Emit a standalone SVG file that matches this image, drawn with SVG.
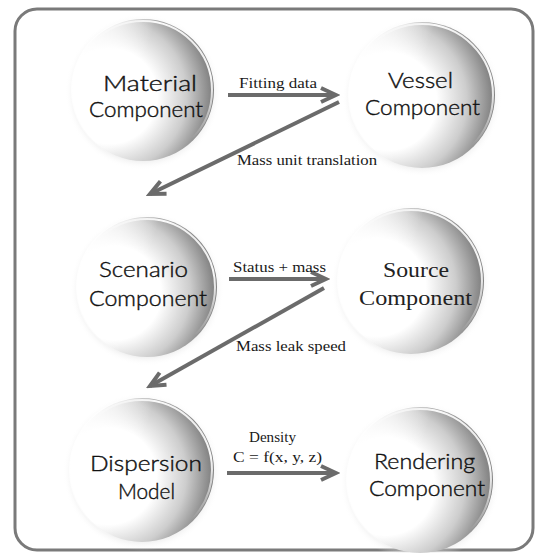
<svg xmlns="http://www.w3.org/2000/svg" width="538" height="553" viewBox="0 0 538 553">
<defs>
<radialGradient id="sph" cx="0.3" cy="0.52" r="0.8" fx="0.24" fy="0.56">
<stop offset="0" stop-color="#ffffff"/>
<stop offset="0.42" stop-color="#ffffff"/>
<stop offset="0.66" stop-color="#cdcdcd"/>
<stop offset="0.85" stop-color="#878787"/>
<stop offset="0.95" stop-color="#767676"/>
<stop offset="1" stop-color="#bdbdbd"/>
</radialGradient>
<linearGradient id="leftfade" x1="0" y1="0.35" x2="1" y2="0.65">
<stop offset="0" stop-color="#ffffff" stop-opacity="1"/>
<stop offset="0.22" stop-color="#ffffff" stop-opacity="0.6"/>
<stop offset="0.45" stop-color="#ffffff" stop-opacity="0"/>
</linearGradient>
<linearGradient id="rim" x1="0" y1="1" x2="1" y2="0">
<stop offset="0.5" stop-color="#ffffff" stop-opacity="0"/>
<stop offset="0.8" stop-color="#ffffff" stop-opacity="0.95"/>
<stop offset="1" stop-color="#ffffff" stop-opacity="0.6"/>
</linearGradient>
<radialGradient id="halo" cx="0.5" cy="0.5" r="0.5">
<stop offset="0.86" stop-color="#d8d8d8" stop-opacity="0.5"/>
<stop offset="1" stop-color="#ffffff" stop-opacity="0"/>
</radialGradient>
<marker id="chev" markerUnits="userSpaceOnUse" markerWidth="24" markerHeight="24" viewBox="-20 -12 24 24" refX="0" refY="0" orient="auto">
<path d="M-15,-7 L0,0 L-15,7" fill="none" stroke="#6b6b6b" stroke-width="4" stroke-linejoin="miter"/>
</marker>
</defs>
<style>
.ball{fill:url(#sph)}
.fade{fill:url(#leftfade)}
.rim{fill:none;stroke:url(#rim);stroke-width:2}
.halo{fill:url(#halo)}
.nt{font-family:Lato,"Open Sans","DejaVu Sans",sans-serif;font-size:21px;font-weight:300;fill:#111111;stroke:#111111;stroke-width:0.4}
.ns{font-family:"Liberation Serif","Times New Roman",serif;font-size:20px;fill:#222222}
.el{font-family:"Liberation Serif","Times New Roman",serif;font-size:14px;fill:#1a1a1a}
.conn{stroke:#6b6b6b;stroke-width:4;fill:none;marker-end:url(#chev)}
</style>
<rect x="15" y="9" width="518" height="541" rx="22" ry="22" fill="#ffffff" stroke="#7a7a7a" stroke-width="3"/>

<g id="material">
<circle class="halo" cx="143" cy="92" r="78"/>
<circle class="ball" cx="143" cy="90" r="71"/>
<circle class="fade" cx="143" cy="90" r="72"/>
<circle class="rim" cx="143" cy="90" r="69"/>
<text class="nt" x="103" y="91" textLength="94" lengthAdjust="spacingAndGlyphs">Material</text>
<text class="nt" x="89" y="117" textLength="114" lengthAdjust="spacingAndGlyphs">Component</text>
</g>

<g id="vessel">
<circle class="halo" cx="422" cy="97" r="80"/>
<circle class="ball" cx="422" cy="95" r="73"/>
<circle class="fade" cx="422" cy="95" r="74"/>
<circle class="rim" cx="422" cy="95" r="71"/>
<text class="nt" x="388" y="88" textLength="65" lengthAdjust="spacingAndGlyphs">Vessel</text>
<text class="nt" x="365" y="115" textLength="115" lengthAdjust="spacingAndGlyphs">Component</text>
</g>

<g id="scenario">
<circle class="halo" cx="147" cy="289" r="77"/>
<circle class="ball" cx="147" cy="287" r="70"/>
<circle class="fade" cx="147" cy="287" r="71"/>
<circle class="rim" cx="147" cy="287" r="68"/>
<text class="nt" x="99" y="277" textLength="89" lengthAdjust="spacingAndGlyphs">Scenario</text>
<text class="nt" x="89" y="306" textLength="118" lengthAdjust="spacingAndGlyphs">Component</text>
</g>

<g id="source">
<circle class="halo" cx="411" cy="283" r="80"/>
<circle class="ball" cx="411" cy="281" r="73"/>
<circle class="fade" cx="411" cy="281" r="74"/>
<circle class="rim" cx="411" cy="281" r="71"/>
<text class="ns" x="383" y="277" textLength="66" lengthAdjust="spacingAndGlyphs">Source</text>
<text class="ns" x="359" y="305" textLength="113" lengthAdjust="spacingAndGlyphs">Component</text>
</g>

<g id="dispersion">
<circle class="halo" cx="142" cy="472" r="79"/>
<circle class="ball" cx="142" cy="470" r="72"/>
<circle class="fade" cx="142" cy="470" r="73"/>
<circle class="rim" cx="142" cy="470" r="70"/>
<text class="nt" x="90" y="471" textLength="112" lengthAdjust="spacingAndGlyphs">Dispersion</text>
<text class="nt" x="118" y="499" textLength="57" lengthAdjust="spacingAndGlyphs">Model</text>
</g>

<g id="rendering">
<circle class="halo" cx="420" cy="482" r="80"/>
<circle class="ball" cx="420" cy="480" r="73"/>
<circle class="fade" cx="420" cy="480" r="74"/>
<circle class="rim" cx="420" cy="480" r="71"/>
<text class="nt" x="374" y="469" textLength="101" lengthAdjust="spacingAndGlyphs">Rendering</text>
<text class="nt" x="369" y="496" textLength="116" lengthAdjust="spacingAndGlyphs">Component</text>
</g>

<g id="connectors">
<line class="conn" x1="228" y1="95" x2="336" y2="95"/>
<line class="conn" x1="339" y1="102" x2="150" y2="194"/>
<line class="conn" x1="229" y1="279" x2="326" y2="279"/>
<line class="conn" x1="324" y1="288" x2="150" y2="386"/>
<line class="conn" x1="227" y1="473" x2="336" y2="473"/>
<text class="el" x="239" y="88" textLength="78" lengthAdjust="spacingAndGlyphs">Fitting data</text>
<text class="el" x="237" y="165" textLength="140" lengthAdjust="spacingAndGlyphs">Mass unit translation</text>
<text class="el" x="233" y="272" textLength="93" lengthAdjust="spacingAndGlyphs">Status + mass</text>
<text class="el" x="236" y="351" textLength="110" lengthAdjust="spacingAndGlyphs">Mass leak speed</text>
<text class="el" x="249" y="442" textLength="47" lengthAdjust="spacingAndGlyphs">Density</text>
<text class="el" x="233" y="462" textLength="89" lengthAdjust="spacingAndGlyphs">C = f(x, y, z)</text>
</g>
</svg>
